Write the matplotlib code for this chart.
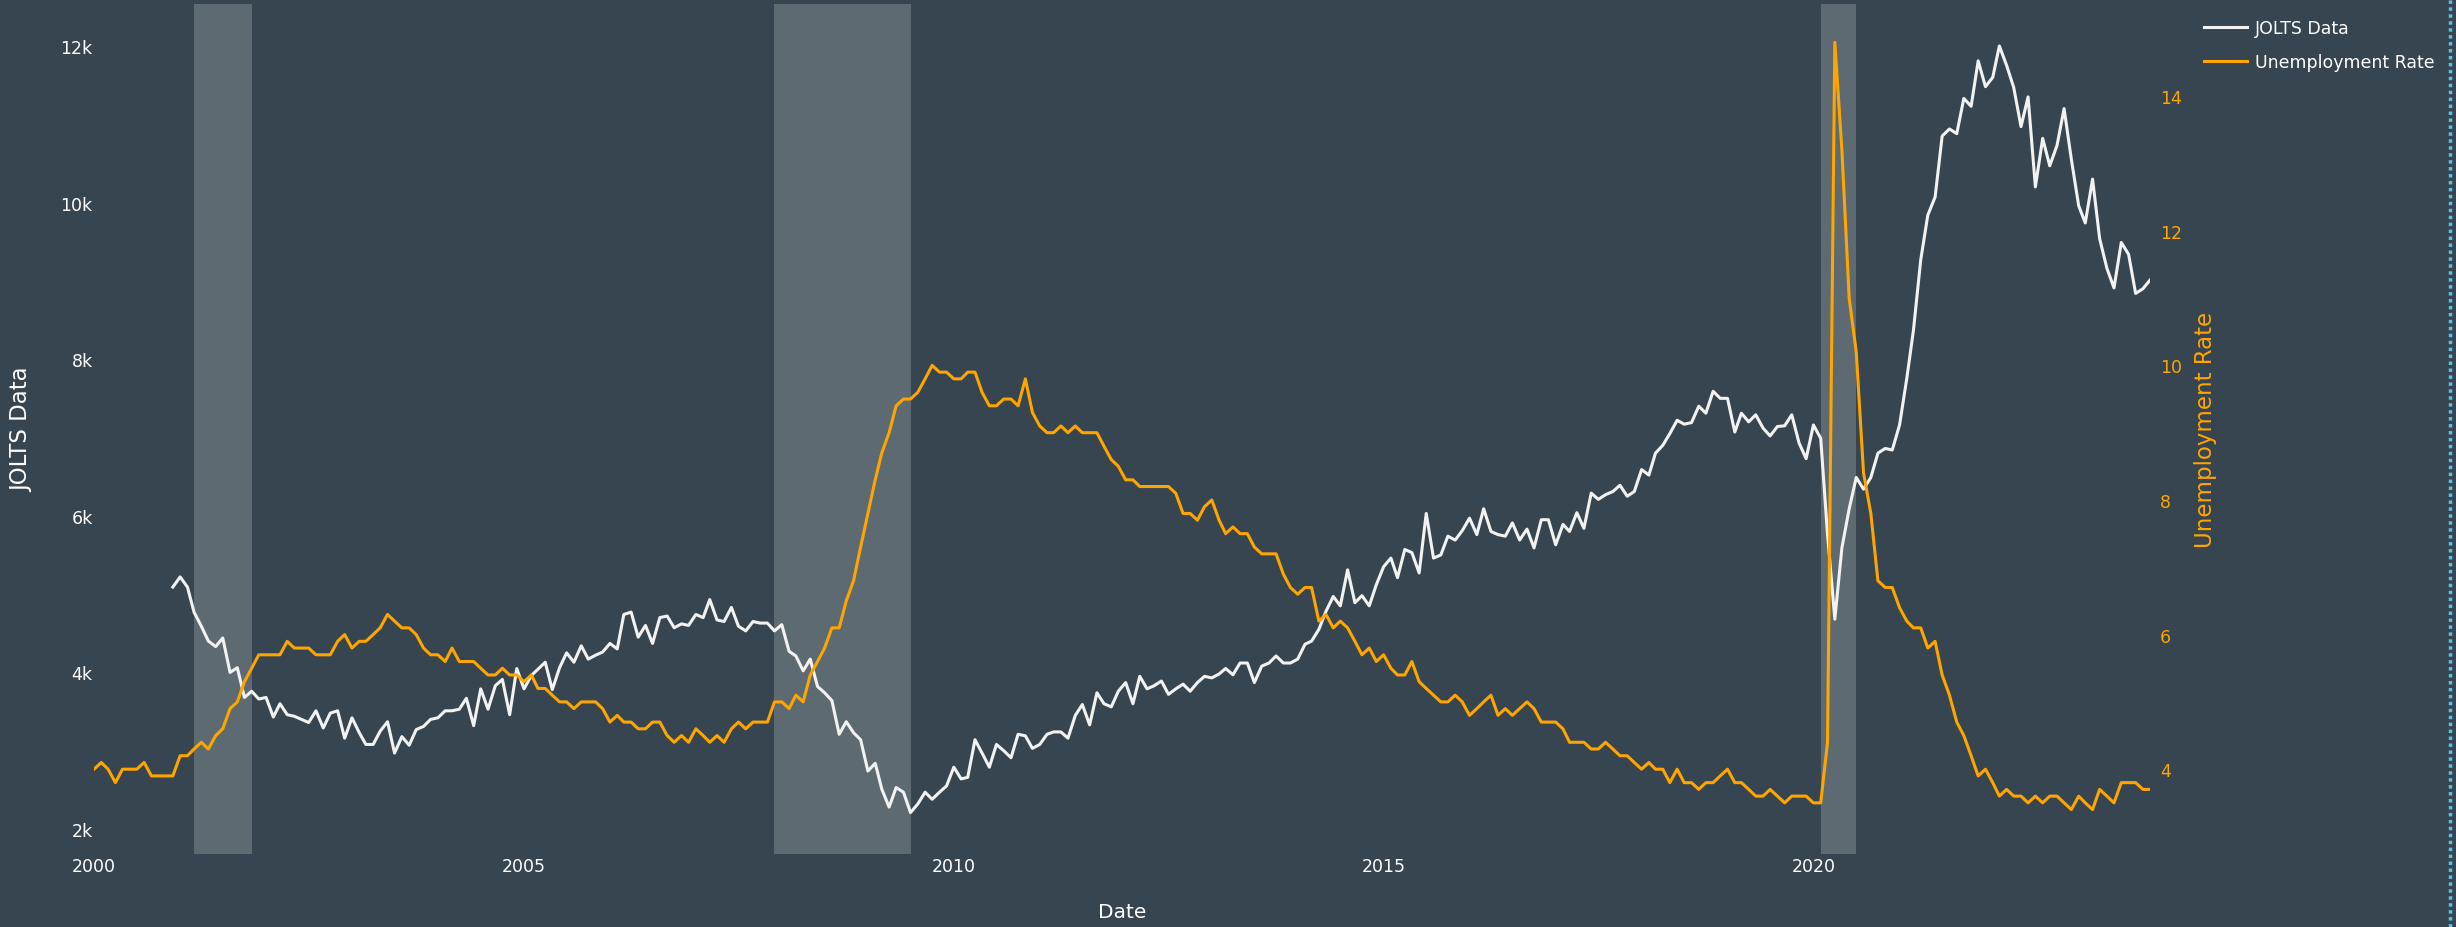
import matplotlib
matplotlib.use('Agg')
import matplotlib.pyplot as plt
import matplotlib.dates as mdates
from matplotlib.lines import Line2D
import pandas as pd

# Unemployment rate (%), monthly from Jan 2000
unrate = [
    4.0, 4.1, 4.0, 3.8, 4.0, 4.0, 4.0, 4.1, 3.9, 3.9, 3.9, 3.9,   # 2000
    4.2, 4.2, 4.3, 4.4, 4.3, 4.5, 4.6, 4.9, 5.0, 5.3, 5.5, 5.7,   # 2001
    5.7, 5.7, 5.7, 5.9, 5.8, 5.8, 5.8, 5.7, 5.7, 5.7, 5.9, 6.0,   # 2002
    5.8, 5.9, 5.9, 6.0, 6.1, 6.3, 6.2, 6.1, 6.1, 6.0, 5.8, 5.7,   # 2003
    5.7, 5.6, 5.8, 5.6, 5.6, 5.6, 5.5, 5.4, 5.4, 5.5, 5.4, 5.4,   # 2004
    5.3, 5.4, 5.2, 5.2, 5.1, 5.0, 5.0, 4.9, 5.0, 5.0, 5.0, 4.9,   # 2005
    4.7, 4.8, 4.7, 4.7, 4.6, 4.6, 4.7, 4.7, 4.5, 4.4, 4.5, 4.4,   # 2006
    4.6, 4.5, 4.4, 4.5, 4.4, 4.6, 4.7, 4.6, 4.7, 4.7, 4.7, 5.0,   # 2007
    5.0, 4.9, 5.1, 5.0, 5.4, 5.6, 5.8, 6.1, 6.1, 6.5, 6.8, 7.3,   # 2008
    7.8, 8.3, 8.7, 9.0, 9.4, 9.5, 9.5, 9.6, 9.8, 10.0, 9.9, 9.9,  # 2009
    9.8, 9.8, 9.9, 9.9, 9.6, 9.4, 9.4, 9.5, 9.5, 9.4, 9.8, 9.3,   # 2010
    9.1, 9.0, 9.0, 9.1, 9.0, 9.1, 9.0, 9.0, 9.0, 8.8, 8.6, 8.5,   # 2011
    8.3, 8.3, 8.2, 8.2, 8.2, 8.2, 8.2, 8.1, 7.8, 7.8, 7.7, 7.9,   # 2012
    8.0, 7.7, 7.5, 7.6, 7.5, 7.5, 7.3, 7.2, 7.2, 7.2, 6.9, 6.7,   # 2013
    6.6, 6.7, 6.7, 6.2, 6.3, 6.1, 6.2, 6.1, 5.9, 5.7, 5.8, 5.6,   # 2014
    5.7, 5.5, 5.4, 5.4, 5.6, 5.3, 5.2, 5.1, 5.0, 5.0, 5.1, 5.0,   # 2015
    4.8, 4.9, 5.0, 5.1, 4.8, 4.9, 4.8, 4.9, 5.0, 4.9, 4.7, 4.7,   # 2016
    4.7, 4.6, 4.4, 4.4, 4.4, 4.3, 4.3, 4.4, 4.3, 4.2, 4.2, 4.1,   # 2017
    4.0, 4.1, 4.0, 4.0, 3.8, 4.0, 3.8, 3.8, 3.7, 3.8, 3.8, 3.9,   # 2018
    4.0, 3.8, 3.8, 3.7, 3.6, 3.6, 3.7, 3.6, 3.5, 3.6, 3.6, 3.6,   # 2019
    3.5, 3.5, 4.4, 14.8, 13.2, 11.0, 10.2, 8.4, 7.8, 6.8, 6.7, 6.7,  # 2020
    6.4, 6.2, 6.1, 6.1, 5.8, 5.9, 5.4, 5.1, 4.7, 4.5, 4.2, 3.9,   # 2021
    4.0, 3.8, 3.6, 3.7, 3.6, 3.6, 3.5, 3.6, 3.5, 3.6, 3.6, 3.5,   # 2022
    3.4, 3.6, 3.5, 3.4, 3.7, 3.6, 3.5, 3.8, 3.8, 3.8, 3.7, 3.7,   # 2023
]

# JOLTS job openings (thousands), monthly from Dec 2000
jolts = [
    5090,
    5220, 5090, 4770, 4590, 4400, 4330, 4440, 4000, 4060, 3680, 3760, 3660,  # 2001
    3680, 3430, 3600, 3460, 3440, 3400, 3360, 3510, 3290, 3480, 3510, 3160,  # 2002
    3420, 3230, 3080, 3080, 3250, 3370, 2970, 3180, 3070, 3270, 3310, 3400,  # 2003
    3420, 3510, 3510, 3530, 3670, 3320, 3790, 3530, 3830, 3910, 3460, 4050,  # 2004
    3790, 3960, 4040, 4130, 3780, 4060, 4250, 4130, 4340, 4170, 4220, 4260,  # 2005
    4370, 4300, 4740, 4770, 4450, 4600, 4370, 4700, 4720, 4570, 4620, 4600,  # 2006
    4740, 4700, 4930, 4670, 4650, 4830, 4590, 4530, 4650, 4630, 4630, 4530,  # 2007
    4610, 4270, 4210, 4020, 4170, 3820, 3740, 3640, 3210, 3370, 3230, 3140,  # 2008
    2740, 2840, 2510, 2280, 2530, 2470, 2210, 2320, 2470, 2380, 2470, 2550,  # 2009
    2790, 2640, 2660, 3140, 2970, 2790, 3080, 3000, 2910, 3210, 3190, 3030,  # 2010
    3080, 3210, 3240, 3240, 3160, 3450, 3590, 3330, 3740, 3600, 3560, 3760,  # 2011
    3870, 3600, 3950, 3790, 3830, 3890, 3720, 3790, 3850, 3760, 3870, 3950,  # 2012
    3930, 3980, 4050, 3970, 4120, 4120, 3870, 4080, 4120, 4210, 4120, 4120,  # 2013
    4170, 4360, 4400, 4550, 4780, 4970, 4850, 5310, 4890, 4980, 4850, 5120,  # 2014
    5350, 5460, 5210, 5570, 5530, 5270, 6030, 5460, 5500, 5740, 5690, 5810,  # 2015
    5970, 5760, 6090, 5800, 5760, 5740, 5910, 5690, 5830, 5590, 5950, 5950,  # 2016
    5630, 5890, 5800, 6040, 5840, 6290, 6210, 6270, 6310, 6390, 6250, 6310,  # 2017
    6590, 6520, 6800, 6900, 7050, 7220, 7170, 7190, 7400, 7310, 7590, 7500,  # 2018
    7500, 7070, 7310, 7200, 7290, 7120, 7020, 7140, 7150, 7290, 6930, 6730,  # 2019
    7160, 6990, 5760, 4680, 5590, 6090, 6490, 6340, 6490, 6800, 6860, 6840,  # 2020
    7160, 7760, 8370, 9270, 9840, 10070, 10850, 10940, 10880, 11330, 11230, 11810,  # 2021
    11480, 11600, 12000, 11750, 11470, 10970, 11350, 10200, 10820, 10470, 10730, 11200,  # 2022
    10550, 9960, 9740, 10300, 9540, 9160, 8910, 9490, 9340, 8840, 8900, 9010,  # 2023
]

# recession bands (start, end)
recessions = [
    ('2001-03-01', '2001-11-01'),
    ('2007-12-01', '2009-07-01'),
    ('2020-02-01', '2020-07-01'),
]

unrate_dates = pd.date_range('2000-01-01', periods=len(unrate), freq='MS')
jolts_dates = pd.date_range('2000-12-01', periods=len(jolts), freq='MS')

BG = '#36454f'
ORANGE = '#ffa500'
W, H = 2456, 928

fig = plt.figure(figsize=(W / 100, H / 100), dpi=100, facecolor=BG)
left, right, top, bottom = 94, 2150, 5, 855
ax = fig.add_axes([left / W, 1 - bottom / H, (right - left) / W, (bottom - top) / H])
ax.set_facecolor(BG)
ax2 = ax.twinx()

for start, end in recessions:
    ax.axvspan(pd.Timestamp(start), pd.Timestamp(end), color='white', alpha=0.2, lw=0, zorder=0)

l1, = ax.plot(jolts_dates, jolts, color='#f2f2f2', lw=2.2, label='JOLTS Data', zorder=2)
l2, = ax2.plot(unrate_dates, unrate, color=ORANGE, lw=2.2, label='Unemployment Rate')

ax.set_xlim(unrate_dates[0], unrate_dates[-1])
ax.set_ylim(1681, 12536)
ax2.set_ylim(2.74, 15.37)

ax.set_xticks([pd.Timestamp(f'{y}-01-01') for y in range(2000, 2021, 5)])
ax.xaxis.set_major_formatter(mdates.DateFormatter('%Y'))
ax.set_yticks(range(2000, 12001, 2000))
ax.set_yticklabels([f'{v // 1000}k' for v in range(2000, 12001, 2000)])
ax2.set_yticks(range(4, 15, 2))

for a in (ax, ax2):
    for s in a.spines.values():
        s.set_visible(False)

ax.tick_params(axis='x', length=0, pad=2, labelsize=12.5, labelcolor='white')
ax.tick_params(axis='y', length=0, pad=1, labelsize=12.5, labelcolor='white')
ax2.tick_params(axis='y', length=0, pad=7, labelsize=12.5, labelcolor=ORANGE)

ax.set_xlabel('Date', fontsize=14.5, color='white')
ax.xaxis.set_label_coords(0.5, -0.056)
ax.set_ylabel('JOLTS Data', fontsize=16.5, color='white')
ax.yaxis.set_label_coords(-0.0294, 0.5)
ax2.set_ylabel('Unemployment Rate', fontsize=16.5, color=ORANGE)
ax2.yaxis.set_label_coords(1.0214, 0.5)

leg = fig.legend(handles=[l1, l2], loc='upper left', bbox_to_anchor=(2204 / W, 1 - 20 / H),
                 frameon=False, fontsize=12.5, handlelength=2.5, handletextpad=0.45,
                 labelspacing=0.9, borderpad=0, borderaxespad=0)
for t in leg.get_texts():
    t.set_color('white')

# dotted border at the right edge of the screenshot
fig.add_artist(Line2D([2450 / W, 2450 / W], [0, 1], transform=fig.transFigure,
                      color='#55c0e8', lw=2.5, linestyle=(0, (1, 1))))

fig.savefig('out.png', dpi=100, facecolor=BG)
plt.close(fig)
